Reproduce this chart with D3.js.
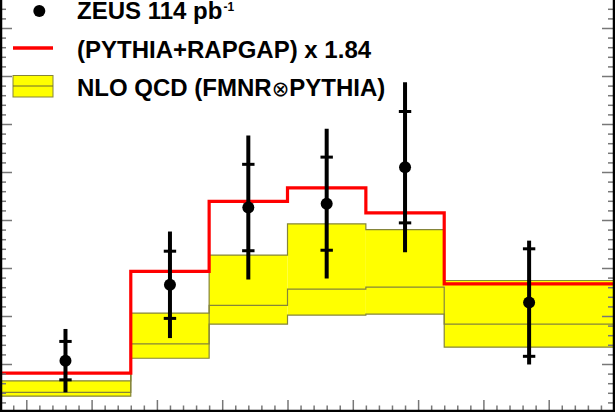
<!DOCTYPE html>
<html>
<head>
<script src="https://cdn.jsdelivr.net/npm/d3@7"></script>
<style>
  body { margin: 0; background: #fff; }
  svg { display: block; }
  text { font-family: "Liberation Sans", Arial, Helvetica, sans-serif; font-weight: bold; }
</style>
</head>
<body>
<div id="chart"></div>
<script>
// bin edges and per-bin values (histograms)
const binEdges   = [-0.4, 1.6, 2.8, 4.0, 5.2, 6.4, 9.0];
const mcValues   = [0.81, 2.93, 4.39, 4.67, 4.15, 2.67];   // (PYTHIA+RAPGAP) x 1.84
const nloCentral = [0.41, 1.42, 2.22, 2.56, 2.60, 1.83];
const nloUp      = [0.65, 2.06, 3.27, 3.92, 3.80, 2.74];
const nloDown    = [0.33, 1.12, 1.83, 2.02, 2.04, 1.35];

// ZEUS data points
const dataX   = [0.6, 2.2, 3.4, 4.6, 5.8, 7.7];
const dataY   = [1.07, 2.65, 4.26, 4.34, 5.10, 2.28];
const statErr = [0.40, 0.70, 0.90, 0.97, 1.16, 1.12];
const totErr  = [0.66, 1.11, 1.50, 1.56, 1.77, 1.29];

const legendLabels = ["ZEUS 114 pb", "(PYTHIA+RAPGAP) x 1.84", "NLO QCD (FMNR", "\u2297", "PYTHIA)"];

const W = 615, H = 412;
const x = d3.scaleLinear().domain([-0.4, 9.0]).range([0.18, 614]);
const y = d3.scaleLinear().domain([0, 412 / 48]).range([412, 0]);

const svg = d3.select("#chart").append("svg")
    .attr("width", W).attr("height", H);

const bins = d3.range(mcValues.length).map(i => ({
    x0: binEdges[i], x1: binEdges[i + 1],
    mc: mcValues[i], c: nloCentral[i], up: nloUp[i], dn: nloDown[i]
}));

// NLO band
svg.selectAll("rect.band").data(bins).enter().append("rect")
    .attr("class", "band")
    .attr("x", d => x(d.x0))
    .attr("width", d => x(d.x1) - x(d.x0))
    .attr("y", d => y(d.up))
    .attr("height", d => y(d.dn) - y(d.up))
    .attr("fill", "#ffff00");

const step = d3.line().curve(d3.curveStepAfter).x(d => x(d[0])).y(d => y(d[1]));
function stepPts(vals) {
    const pts = vals.map((v, i) => [binEdges[i], v]);
    pts.push([binEdges[binEdges.length - 1], vals[vals.length - 1]]);
    return pts;
}
[nloUp, nloDown, nloCentral].forEach(vals => {
    svg.append("path")
        .attr("d", step(stepPts(vals)))
        .attr("fill", "none")
        .attr("stroke", "#85853a")
        .attr("stroke-width", 1.2);
});

// MC histogram
svg.append("path")
    .attr("d", step(stepPts(mcValues)))
    .attr("fill", "none")
    .attr("stroke", "#ff0000")
    .attr("stroke-width", 3.2);

// data points
const pts = dataX.map((v, i) => ({ x: v, y: dataY[i], s: statErr[i], t: totErr[i] }));
const pg = svg.append("g");
pg.selectAll("line.tot").data(pts).enter().append("line")
    .attr("x1", d => x(d.x)).attr("x2", d => x(d.x))
    .attr("y1", d => y(d.y + d.t)).attr("y2", d => y(d.y - d.t))
    .attr("stroke", "#000").attr("stroke-width", 4);
pg.selectAll("line.capu").data(pts).enter().append("line")
    .attr("x1", d => x(d.x) - 6.2).attr("x2", d => x(d.x) + 6.2)
    .attr("y1", d => y(d.y + d.s)).attr("y2", d => y(d.y + d.s))
    .attr("stroke", "#000").attr("stroke-width", 3);
pg.selectAll("line.capd").data(pts).enter().append("line")
    .attr("x1", d => x(d.x) - 6.2).attr("x2", d => x(d.x) + 6.2)
    .attr("y1", d => y(d.y - d.s)).attr("y2", d => y(d.y - d.s))
    .attr("stroke", "#000").attr("stroke-width", 3);
pg.selectAll("circle").data(pts).enter().append("circle")
    .attr("cx", d => x(d.x)).attr("cy", d => y(d.y))
    .attr("r", 6).attr("fill", "#000");

// axes ticks
const yMajor = d3.range(0, 9, 1);
const yMinor = d3.range(0, 8.6, 0.2).filter(v => Math.abs(v - Math.round(v)) > 1e-6);
const xMajor = d3.range(0, 10, 1);
const xMinor = d3.range(-0.2, 9.0, 0.2).filter(v => Math.abs(v - Math.round(v)) > 1e-6);

function ticks(axis, vals, size, tx, ty) {
    const g = svg.append("g").attr("transform", `translate(${tx},${ty})`)
        .call(axis.tickValues(vals).tickSize(size).tickSizeOuter(0).tickFormat(""));
    g.select(".domain").remove();
    g.selectAll("line").attr("stroke", "#777").attr("stroke-width", 1.5);
}
ticks(d3.axisRight(y), yMajor, 12, 0, 0);
ticks(d3.axisRight(y), yMinor, 6, 0, 0);
ticks(d3.axisLeft(y), yMajor, 12, 614, 0);
ticks(d3.axisLeft(y), yMinor, 6, 614, 0);
ticks(d3.axisTop(x), xMajor, 11, 0, 411);
ticks(d3.axisTop(x), xMinor, 5.5, 0, 411);

// frame
svg.append("line").attr("x1", 1).attr("x2", 1).attr("y1", 0).attr("y2", H)
    .attr("stroke", "#000").attr("stroke-width", 2.5);
svg.append("line").attr("x1", 614).attr("x2", 614).attr("y1", 0).attr("y2", H)
    .attr("stroke", "#000").attr("stroke-width", 2.5);
svg.append("line").attr("x1", 0).attr("x2", W).attr("y1", 411).attr("y2", 411)
    .attr("stroke", "#000").attr("stroke-width", 2.5);

// legend
const lg = svg.append("g");
lg.append("circle").attr("cx", 39.3).attr("cy", 11).attr("r", 6).attr("fill", "#000");
lg.append("line").attr("x1", 13).attr("x2", 53).attr("y1", 48).attr("y2", 48)
    .attr("stroke", "#ff0000").attr("stroke-width", 3.5);
lg.append("rect").attr("x", 13).attr("y", 75.5).attr("width", 40).attr("height", 21.5)
    .attr("fill", "#ffff00").attr("stroke", "#85853a").attr("stroke-width", 1);
lg.append("line").attr("x1", 13).attr("x2", 53).attr("y1", 86).attr("y2", 86)
    .attr("stroke", "#6b6b30").attr("stroke-width", 1);

const t0 = lg.append("text").attr("x", 77).attr("y", 19).attr("font-size", 24);
t0.append("tspan").text(legendLabels[0]);
t0.append("tspan").attr("font-size", 12).attr("dy", -8).attr("dx", 1).text("-1");
lg.append("text").attr("x", 77).attr("y", 57.5).attr("font-size", 24).text(legendLabels[1]);
const t2 = lg.append("text").attr("x", 77).attr("y", 95.5).attr("font-size", 24);
t2.append("tspan").text(legendLabels[2]);
t2.append("tspan").attr("font-weight", "normal").attr("font-family", "DejaVu Sans")
    .attr("font-size", 21).text(legendLabels[3]);
t2.append("tspan").text(legendLabels[4]);
</script>
</body>
</html>
